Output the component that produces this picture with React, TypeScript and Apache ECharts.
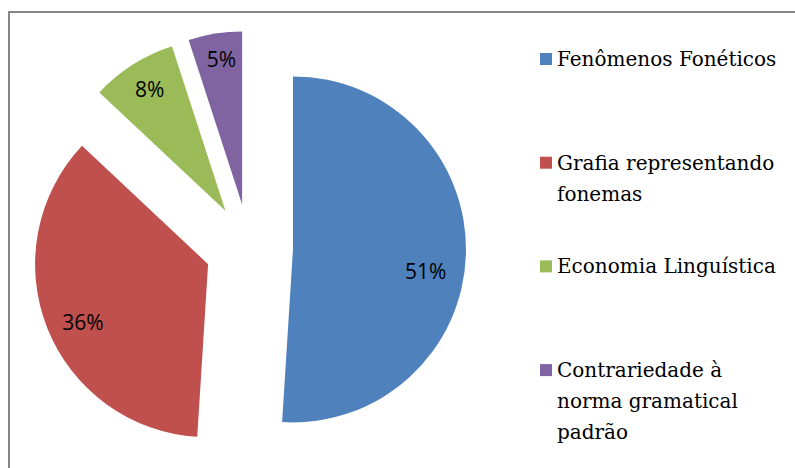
import React, { useEffect, useRef } from "react";
import * as echarts from "echarts";

const categories = [
  "Fenômenos Fonéticos",
  "Grafia representando\nfonemas",
  "Economia Linguística",
  "Contrariedade à\nnorma gramatical\npadrão",
];
const values = [51, 36, 8, 5];
const colors = ["#4F81BD", "#C0504D", "#9BBB59", "#8064A2"];

// styling / layout constants
const CENTER = [249, 248];
const RADIUS = 173;
const EXPLODE = 44;
const labelFrac = [0.76, 0.78, 0.81, 0.83];
const labelNudgeDeg = [7.8, -3.3, 0.5, 0.9];
const LEGEND_FIRST = 59;
const LEGEND_STEP = 103.7;
const LINE_H = 31;
const SERIF = "'DejaVu Serif', 'Liberation Serif', serif";

export default function App() {
  const ref = useRef<HTMLDivElement>(null);
  useEffect(() => {
    document.body.style.margin = "0";
    const chart = echarts.init(ref.current!, undefined, { renderer: "svg" });
    const total = values.reduce((a, b) => a + b, 0);
    const mids: number[] = [];
    let cum = 0;
    values.forEach((v) => {
      mids.push(((cum + v / 2) / total) * 360);
      cum += v;
    });
    const rad = (d: number) => (d * Math.PI) / 180;

    // shift of each inside label away from its default spot (half radius on the mid angle)
    const labelPadding = values.map((_, i) => {
      const m = mids[i];
      const a = m + labelNudgeDeg[i];
      const r = labelFrac[i] * RADIUS;
      const dx = r * Math.sin(rad(a)) - 0.5 * RADIUS * Math.sin(rad(m));
      const dy = -r * Math.cos(rad(a)) + 0.5 * RADIUS * Math.cos(rad(m));
      return [
        Math.max(0, 2 * dy),
        Math.max(0, -2 * dx),
        Math.max(0, -2 * dy),
        Math.max(0, 2 * dx),
      ];
    });

    chart.setOption({
      animation: false,
      graphic: [
        {
          type: "rect",
          shape: { x: 9, y: 12, width: 1000, height: 800 },
          style: { fill: "none", stroke: "#868686", lineWidth: 2 },
          silent: true,
        },
      ],
      legend: categories.map((name, i) => {
        const lines = name.split("\n").length;
        const half = (LINE_H * (2 * lines - 1)) / 2;
        return {
          orient: "vertical",
          left: 540,
          top: LEGEND_FIRST + i * LEGEND_STEP - half,
          padding: 0,
          itemGap: 0,
          icon: "rect",
          itemWidth: 12,
          itemHeight: 12,
          selectedMode: false,
          data: [name],
          formatter: (n: string) =>
            "\n".repeat(n.split("\n").length - 1) + n,
          textStyle: {
            fontFamily: SERIF,
            fontSize: 20,
            lineHeight: LINE_H,
            color: "#000",
          },
        };
      }),
      series: [
        {
          type: "pie",
          center: CENTER,
          radius: RADIUS,
          startAngle: 90,
          clockwise: true,
          selectedMode: "multiple",
          selectedOffset: EXPLODE,
          avoidLabelOverlap: false,
          emphasis: { disabled: true },
          select: { itemStyle: { borderWidth: 0 } },
          data: values.map((v, i) => ({
            name: categories[i],
            value: v,
            selected: true,
            itemStyle: { color: colors[i], borderWidth: 0 },
            label: { padding: labelPadding[i] },
          })),
          label: {
            show: true,
            position: "inside",
            formatter: "{v|{c}%}",
            rich: {
              v: {
                fontFamily: "'Open Sans', sans-serif",
                fontSize: 21,
                color: "#000",
              },
            },
          },
          labelLine: { show: false },
        },
      ],
    });
    return () => chart.dispose();
  }, []);
  return <div ref={ref} style={{ width: 795, height: 468 }} />;
}
